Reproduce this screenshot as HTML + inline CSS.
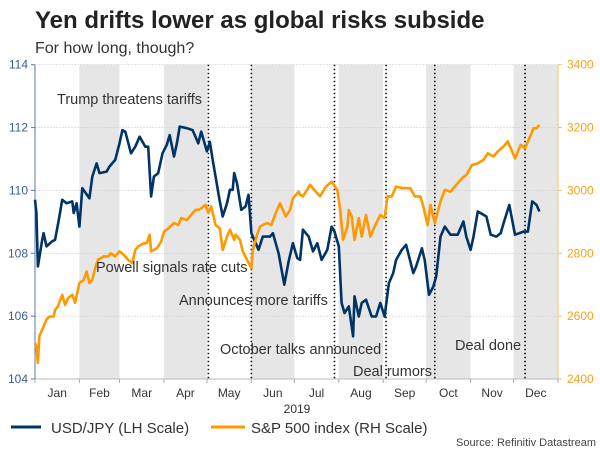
<!DOCTYPE html>
<html><head><meta charset="utf-8"><style>
body{margin:0;background:#fff;}
svg{display:block;font-family:"Liberation Sans",Arial,sans-serif;}
</style></head><body>
<svg id="chart" width="600" height="450" viewBox="0 0 600 450">
<text x="35" y="28" font-size="24" font-weight="bold" fill="#222">Yen drifts lower as global risks subside</text>
<text x="35" y="53" font-size="16" fill="#333">For how long, though?</text>
<g id="plot"></g>
<text x="297" y="413" font-size="12" fill="#333" text-anchor="middle">2019</text>
<g>
<g><line x1="11" y1="427" x2="41" y2="427" stroke="#003366" stroke-width="3"/><text x="51" y="433" font-size="15" fill="#333">USD/JPY (LH Scale)</text></g>
<g><line x1="211" y1="427" x2="245" y2="427" stroke="#ff9900" stroke-width="3"/><text x="251" y="433" font-size="15" fill="#333">S&amp;P 500 index (RH Scale)</text></g>
</g>
<text x="596" y="446" font-size="11" fill="#444" text-anchor="end">Source: Refinitiv Datastream</text>
</svg>
<script>
const jpyDays=[0,1,2,5,6,8,12,14,17,19,22,26,27,29,31,33,38,40,43,45,50,52,56,59,61,63,67,70,73,77,79,81,83,86,89,92,94,97,99,101,106,110,114,116,120,122,124,129,131,134,136,138,139,141,144,147,149,151,154,156,159,164,166,170,174,177,180,183,185,187,191,194,197,200,204,207,209,212,214,216,219,222,223,226,228,231,235,238,241,244,247,250,252,256,259,264,266,270,272,275,278,280,283,286,290,295,299,301,304,306,309,315,318,322,325,327,331,335,341,344,347,350,352];
const jpyValues=[109.70,109.28,107.58,108.43,108.64,108.22,108.38,108.43,109.17,109.70,109.59,109.65,109.28,109.59,108.85,110.07,109.75,110.44,110.86,110.55,110.60,110.76,110.97,111.50,111.92,111.87,111.18,111.39,111.71,111.39,111.39,109.81,110.44,110.55,111.18,111.45,111.76,111.08,111.50,112.03,111.98,111.92,111.50,111.87,111.24,111.55,110.97,109.65,109.17,109.59,110.02,110.02,110.55,110.23,109.38,109.49,109.86,108.64,108.32,108.11,108.53,108.53,108.64,108.00,107.00,107.74,108.32,107.85,107.79,108.75,108.53,108.06,108.32,107.79,108.11,108.85,108.69,108.22,106.42,106.10,106.31,105.36,106.63,105.99,106.42,106.52,105.99,105.99,106.42,105.99,107.05,107.37,107.79,108.11,108.27,107.37,107.58,108.16,107.79,106.68,106.94,107.26,108.53,108.85,108.59,108.59,109.01,108.53,108.11,108.53,109.33,109.17,108.59,108.53,108.64,108.96,109.54,108.59,108.69,108.69,109.65,109.54,109.33];
const spxDays=[0,1,2,3,6,8,10,13,14,16,19,21,23,26,28,31,34,36,38,40,42,44,48,51,53,56,59,62,65,68,70,72,76,78,80,81,85,88,90,93,97,100,102,106,109,112,114,116,119,121,123,126,129,131,134,136,139,140,143,145,148,151,152,155,157,159,162,165,168,171,175,178,180,184,185,187,192,196,199,203,207,211,213,215,218,219,221,223,226,228,231,234,237,241,244,246,249,252,257,262,265,269,271,274,276,279,283,286,290,293,298,301,305,309,313,316,320,323,327,330,333,335,339,342,346,348,350,352];
const spxValues=[2514,2504,2451,2536,2567,2589,2599,2599,2620,2631,2668,2636,2657,2668,2642,2705,2715,2742,2705,2715,2753,2779,2790,2790,2800,2790,2806,2795,2779,2769,2811,2822,2832,2832,2859,2806,2816,2837,2869,2879,2896,2890,2912,2906,2922,2938,2938,2943,2954,2928,2949,2890,2879,2811,2853,2875,2843,2859,2843,2806,2779,2753,2811,2859,2885,2890,2896,2890,2928,2959,2917,2938,2975,2996,2986,2981,3018,2996,2981,3012,3028,3002,2938,2843,2885,2938,2917,2843,2912,2853,2922,2853,2885,2922,2912,2981,2981,3012,3007,3007,2981,2981,2949,2890,2954,2896,2964,3002,2996,3012,3039,3049,3081,3086,3097,3118,3108,3124,3140,3156,3124,3102,3145,3134,3177,3198,3198,3208];
const leftTicks=[104,106,108,110,112,114];
const rightTicks=[2400,2600,2800,3000,3200,3400];
const monthLabels=["Jan","Feb","Mar","Apr","May","Jun","Jul","Aug","Sep","Oct","Nov","Dec"];
const monthStartDays=[0,31,59,90,120,151,181,212,243,273,304,334,365];
const shadedMonths=[1,3,5,7,9,11];
const eventDays=[121,151,209,245,279,342];
const annotations=[["Trump threatens tariffs",57,104],["Powell signals rate cuts",96,272],["Announces more tariffs",179,305],["October talks announced",220,354],["Deal rumors",353,376],["Deal done",455,350]];

const X0=35,X1=558,Y0=379,Y1=64.7;
const xs=d=>X0+d*(X1-X0)/365;
const yL=v=>Y0-(v-104)*(Y0-Y1)/10;
const yR=v=>Y0-(v-2400)*(Y0-Y1)/1000;
const NS="http://www.w3.org/2000/svg";
const plot=document.getElementById('plot');
function mk(tag,attrs,parent){const e=document.createElementNS(NS,tag);for(const k in attrs)e.setAttribute(k,attrs[k]);(parent||plot).appendChild(e);return e;}

shadedMonths.forEach(m=>{
  const r=mk('rect',{x:xs(monthStartDays[m]),y:Y1,width:xs(monthStartDays[m+1])-xs(monthStartDays[m]),height:Y0-Y1,fill:'#e6e6e6'});
  
  
});
leftTicks.forEach(t=>{
  const g=mk('line',{x1:X0,x2:X1,y1:yL(t),y2:yL(t),stroke:'#d0d0d0','stroke-width':0.6,'stroke-dasharray':'2,1'});
  
  
  const l=mk('text',{x:28,y:yL(t)+4,'font-size':12,fill:'#3a5f8f','text-anchor':'end'});
  l.textContent=t;
  
  
});
rightTicks.forEach(t=>{
  const l=mk('text',{x:567,y:yR(t)+4,'font-size':12,fill:'#f7a21b'});
  l.textContent=t;
  
  
  const tk=mk('line',{x1:X1,x2:X1+4,y1:yR(t),y2:yR(t),stroke:'#f7c070','stroke-width':1});
  
  
});
leftTicks.forEach(t=>{
  const tk=mk('line',{x1:X0-4,x2:X0,y1:yL(t),y2:yL(t),stroke:'#5a7aa8','stroke-width':1});
  
  
});
const la=mk('line',{x1:X0,x2:X0,y1:Y1,y2:Y0,stroke:'#5a7aa8','stroke-width':1});


const ra=mk('line',{x1:X1,x2:X1,y1:Y1,y2:Y0,stroke:'#f7c070','stroke-width':1});


const xa=mk('line',{x1:X0,x2:X1,y1:Y0,y2:Y0,stroke:'#bbb','stroke-width':1});


monthStartDays.forEach(d=>{
  const tk=mk('line',{x1:xs(d),x2:xs(d),y1:Y0,y2:Y0+4,stroke:'#aaa','stroke-width':1});
  
  
});
monthLabels.forEach((m,i)=>{
  const l=mk('text',{x:(xs(monthStartDays[i])+xs(monthStartDays[i+1]))/2,y:397,'font-size':12,fill:'#333','text-anchor':'middle'});
  l.textContent=m;
  
  
});
eventDays.forEach(d=>{
  const l=mk('line',{x1:xs(d),x2:xs(d),y1:Y1,y2:Y0,stroke:'#111','stroke-width':1.6,'stroke-dasharray':'1.6,2.4'});
  
  
});
const pj=mk('path',{d:jpyDays.map((d,i)=>(i?'L':'M')+xs(d).toFixed(1)+','+yL(jpyValues[i]).toFixed(1)).join(''),fill:'none',stroke:'#003366','stroke-width':2.6,'stroke-linejoin':'round'});


const ps=mk('path',{d:spxDays.map((d,i)=>(i?'L':'M')+xs(d).toFixed(1)+','+yR(spxValues[i]).toFixed(1)).join(''),fill:'none',stroke:'#ff9900','stroke-width':2.6,'stroke-linejoin':'round'});


annotations.forEach(a=>{
  const t=mk('text',{x:a[1],y:a[2],'font-size':14.5,fill:'#333'});
  t.textContent=a[0];
  
  
});
</script>
</body></html>
